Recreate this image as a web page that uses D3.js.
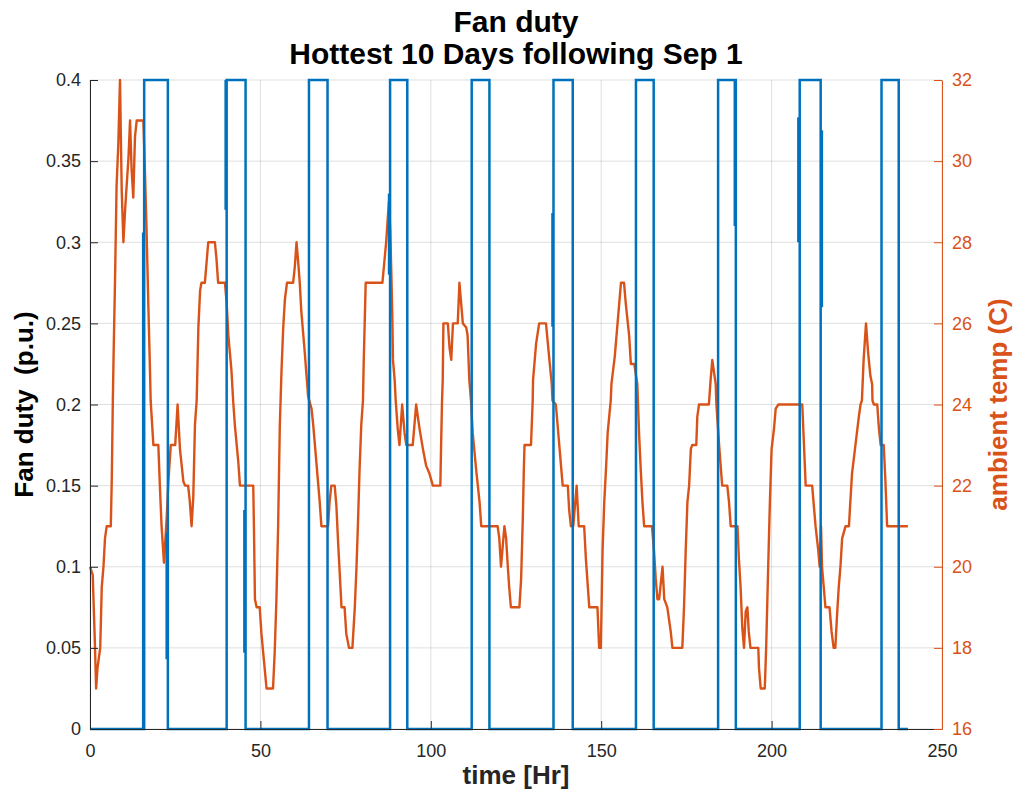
<!DOCTYPE html>
<html lang="en">
<head>
    <meta charset="UTF-8">
    <title>Fan duty</title>
    <script src="https://d3js.org/d3.v7.min.js"></script>
    <style>
        body {
            margin: 0;
            background: #fff;
            font-family: "Liberation Sans", Arial, Helvetica, sans-serif;
        }
        .grid line {
            stroke: #262626;
            stroke-opacity: 0.15;
            stroke-width: 1px;
        }
        .title, .label {
            font-weight: bold;
        }
    </style>
</head>
<body>
    <script>
        // axis ticks
        const xTicks = [0, 50, 100, 150, 200, 250];
        const leftTicks = [0, 0.05, 0.1, 0.15, 0.2, 0.25, 0.3, 0.35, 0.4];
        const rightTicks = [16, 18, 20, 22, 24, 26, 28, 30, 32];

        // fan duty: switched on/off times (hours) and the on level
        const fanOnHr = [15.9, 40.1, 64.25, 88.05, 112.0, 136.0, 160.2, 184.3, 208.25, 232.25];
        const fanOffHr = [22.85, 45.65, 69.7, 93.1, 117.2, 141.65, 165.4, 189.5, 214.4, 237.3];
        const fanLevel = 0.4;
        const fanEndHr = 240;
        // short overlapping traces near some switching edges: [hour, low, high]
        const fanStubs = [
            [15.6, 0, 0.306], [22.5, 0.043, 0.121], [39.8, 0.32, 0.4],
            [45.3, 0.047, 0.135], [87.75, 0.28, 0.33], [135.7, 0.248, 0.318],
            [189.2, 0.31, 0.4], [207.85, 0.3, 0.377], [214.75, 0.26, 0.369]
        ];

        // ambient temperature, [hour, deg C]
        const tempTrace = [
            [0, 20], [0.8, 19.8], [1.4, 18.2], [1.8, 17], [2.2, 17.5], [3.0, 18], [3.45, 19.5],
            [3.95, 20], [4.4, 20.7], [4.9, 21], [6.1, 21], [6.4, 22.2], [6.7, 24.1], [6.9, 25.1],
            [7.35, 27.1], [7.8, 29.4], [8.3, 30.4], [8.8, 32], [9.3, 29.3], [9.8, 28], [10.3, 28.8],
            [11.3, 30.1], [11.75, 31], [12.2, 29.8], [12.7, 29.1], [13.2, 30.6], [13.7, 31],
            [15.65, 31], [16.1, 29.8], [16.6, 28.3], [17.1, 26.5], [17.6, 24.85], [17.8, 24.1],
            [18.6, 23], [20.05, 23], [20.5, 22], [21.0, 21], [21.7, 20.1], [22.5, 21.2], [23.0, 22.1],
            [23.7, 23], [25.0, 23], [25.7, 24], [26.4, 22.9], [27.4, 22.1], [27.9, 22], [28.8, 22],
            [29.3, 21.6], [29.8, 21], [30.3, 21.7], [30.8, 23.5], [31.3, 24.1], [31.8, 25.9],
            [32.3, 26.8], [32.7, 27], [33.7, 27], [34.2, 27.5], [34.7, 28], [36.65, 28], [37.1, 27.6],
            [37.6, 27], [39.6, 27], [40.1, 26.5], [40.6, 25.7], [41.5, 24.85], [42.0, 24.1],
            [42.5, 23.5], [43.5, 22.6], [44.0, 22], [47.9, 22], [48.1, 21], [48.4, 19.2], [48.9, 19],
            [49.8, 19], [50.3, 18.35], [50.8, 17.9], [51.8, 17], [53.7, 17], [54.2, 17.9], [54.7, 19.2],
            [55.2, 21], [55.7, 23.5], [56.2, 24.85], [56.7, 25.9], [57.2, 26.6], [57.8, 27], [59.6, 27],
            [60.1, 27.4], [60.6, 28], [61.1, 27.5], [61.55, 27], [62.0, 26.3], [63.0, 25.3],
            [64.0, 24.2], [65.0, 23.9], [65.5, 23.5], [66.4, 22.6], [67.4, 21.6], [67.9, 21],
            [69.85, 21], [70.3, 21.6], [70.8, 22], [71.8, 22], [72.3, 21.5], [72.8, 20.6], [73.3, 19.8],
            [73.8, 19], [74.7, 19], [75.2, 18.35], [76.0, 18], [77.0, 18], [77.7, 19], [78.2, 20],
            [78.6, 21], [79.1, 22.4], [79.6, 23.5], [80.1, 24.1], [80.3, 25], [80.6, 26], [80.9, 27],
            [85.8, 27], [86.9, 28], [87.7, 29], [88.1, 28.3], [88.4, 27.3], [88.7, 26.2], [88.9, 25.1],
            [89.4, 24.6], [89.7, 24.1], [90.3, 23.4], [90.8, 23], [91.6, 24], [92.3, 23.3], [92.8, 23],
            [94.7, 23], [95.7, 24], [96.7, 23.4], [97.7, 22.9], [98.6, 22.5], [99.6, 22.3], [100.6, 22],
            [102.8, 22], [103.0, 22.9], [103.3, 24.1], [103.5, 24.6], [103.7, 26], [105.0, 26],
            [105.5, 25.4], [106.0, 25.1], [106.5, 26], [107.9, 26], [108.4, 27], [109.4, 26],
            [110.4, 25.9], [110.8, 25.7], [111.3, 24.6], [111.8, 24.1], [112.3, 23.3], [113.3, 22.4],
            [114.3, 21.6], [114.8, 21], [119.6, 21], [120.1, 20.7], [120.6, 20], [121.6, 21],
            [122.1, 20.7], [122.6, 20], [123.0, 19.5], [123.5, 19], [126.0, 19], [126.5, 19.7],
            [127.0, 21.2], [127.3, 22.4], [127.5, 23], [129.4, 23], [129.9, 24.1], [130.0, 24.6],
            [130.9, 25.5], [131.8, 26], [133.8, 26], [134.8, 25.1], [135.5, 24.5], [135.7, 24.1],
            [136.7, 24], [137.7, 23], [138.7, 22], [140.2, 22], [140.6, 21.4], [141.1, 21], [141.8, 21],
            [142.4, 21.6], [142.8, 22], [143.4, 21], [145.0, 21], [145.5, 20.2], [146.5, 19],
            [148.9, 19], [149.4, 18], [149.9, 18], [150.4, 20.4], [150.9, 21.6], [151.4, 22.4],
            [151.9, 23.3], [152.8, 24.1], [153.0, 24.5], [154.0, 25.2], [154.8, 26], [155.8, 27],
            [156.7, 27], [157.2, 26.5], [158.2, 25.7], [158.7, 25], [159.7, 25], [160.6, 24.5],
            [161.1, 23.3], [161.6, 22.4], [162.1, 21.6], [162.6, 21], [164.9, 21], [165.5, 20.4],
            [166.0, 19.7], [166.5, 19.2], [167.0, 19.2], [168.0, 20], [168.5, 19.2], [169.4, 19],
            [170.4, 18.4], [170.9, 18], [173.8, 18], [174.3, 19], [174.8, 20.4], [175.3, 21.6],
            [175.8, 22], [176.3, 22.9], [176.7, 23], [177.9, 23], [178.2, 23.7], [178.7, 24],
            [181.6, 24], [182.1, 24.6], [182.6, 25.1], [183.1, 24.8], [183.6, 24.5], [183.8, 24],
            [184.6, 23], [185.5, 22], [187.0, 22], [187.5, 21.6], [188.0, 21], [190.0, 21],
            [190.4, 20.2], [190.9, 19.5], [191.4, 18.5], [191.9, 18], [192.4, 18.9], [192.9, 19],
            [193.3, 18.4], [193.8, 18], [196.1, 18], [196.3, 17.5], [196.8, 17], [198.0, 17],
            [198.4, 18], [199.0, 20], [199.5, 21.6], [200.0, 22.9], [200.7, 23.4], [201.2, 23.9],
            [202.0, 24], [209.0, 24], [209.5, 23], [210.0, 22], [211.9, 22], [212.4, 21.5], [212.9, 21],
            [213.7, 20.4], [214.1, 20], [214.5, 21], [214.8, 20], [215.3, 19.5], [215.8, 19],
            [217.0, 19], [217.6, 18.4], [218.2, 18], [218.7, 18], [219.2, 18.8], [219.7, 19.5],
            [220.2, 20], [220.7, 20.7], [221.7, 21], [222.7, 21], [223.1, 21.6], [223.6, 22.3],
            [224.6, 23], [225.6, 23.7], [226.1, 24], [226.5, 24.1], [227.0, 25.1], [227.7, 26],
            [228.3, 25.3], [229.0, 24.7], [229.5, 24.5], [229.6, 24.1], [230.0, 24], [231.0, 24],
            [231.5, 23.4], [232.0, 23], [232.9, 23], [233.4, 22.1], [233.9, 21], [240.0, 21]
        ];

        const blue = "#0072BD", orange = "#D95319", dark = "#262626";
        const width = 1018, height = 796;
        const plotL = 90, plotR = 942, plotT = 80, plotB = 729;

        const svg = d3.select("body")
            .append("svg")
            .attr("width", width)
            .attr("height", height);

        const x = d3.scaleLinear().domain([0, 250]).range([plotL, plotR]);
        const yL = d3.scaleLinear().domain([0, 0.4]).range([plotB, plotT]);
        const yR = d3.scaleLinear().domain([16, 32]).range([plotB, plotT]);

        // grid
        const grid = svg.append("g").attr("class", "grid");
        grid.selectAll(".gx")
            .data(xTicks)
            .enter()
            .append("line")
            .attr("x1", d => x(d)).attr("x2", d => x(d))
            .attr("y1", plotT).attr("y2", plotB);
        grid.selectAll(".gy")
            .data(leftTicks)
            .enter()
            .append("line")
            .attr("x1", plotL).attr("x2", plotR)
            .attr("y1", d => yL(d)).attr("y2", d => yL(d));

        // temperature line
        svg.append("path")
            .datum(tempTrace)
            .attr("fill", "none")
            .attr("stroke", orange)
            .attr("stroke-width", 2.4)
            .attr("stroke-linejoin", "round")
            .attr("d", d3.line().x(d => x(d[0])).y(d => yR(d[1])));

        // fan duty square wave
        const fanPts = [[0, 0]];
        fanOnHr.forEach((on, i) => {
            fanPts.push([on, 0], [on, fanLevel], [fanOffHr[i], fanLevel], [fanOffHr[i], 0]);
        });
        fanPts.push([fanEndHr, 0]);

        svg.append("path")
            .datum(fanPts)
            .attr("fill", "none")
            .attr("stroke", blue)
            .attr("stroke-width", 2.5)
            .attr("d", d3.line().x(d => x(d[0])).y(d => yL(d[1])));

        svg.selectAll(".stub")
            .data(fanStubs)
            .enter()
            .append("line")
            .attr("stroke", blue)
            .attr("stroke-width", 2.5)
            .attr("x1", d => x(d[0])).attr("x2", d => x(d[0]))
            .attr("y1", d => yL(d[1])).attr("y2", d => yL(d[2]));

        // axes
        const fmt = d => String(+d.toFixed(2));

        const gx = svg.append("g")
            .attr("transform", `translate(0,${plotB})`)
            .call(d3.axisBottom(x).tickValues(xTicks).tickSizeInner(-8).tickSizeOuter(0).tickPadding(15));

        const gl = svg.append("g")
            .attr("transform", `translate(${plotL},0)`)
            .call(d3.axisLeft(yL).tickValues(leftTicks).tickFormat(fmt)
                .tickSizeInner(-8).tickSizeOuter(0).tickPadding(9));

        const gr = svg.append("g")
            .attr("transform", `translate(${plotR},0)`)
            .call(d3.axisRight(yR).tickValues(rightTicks).tickSizeInner(-8).tickSizeOuter(0).tickPadding(10));

        [gx, gl].forEach(g => {
            g.attr("font-family", null).attr("font-size", 18);
            g.select(".domain").attr("stroke", dark);
            g.selectAll(".tick line").attr("stroke", dark);
            g.selectAll(".tick text").attr("fill", dark);
        });
        gr.attr("font-family", null).attr("font-size", 18);
        gr.select(".domain").attr("stroke", orange);
        gr.selectAll(".tick line").attr("stroke", orange);
        gr.selectAll(".tick text").attr("fill", orange);

        // titles and labels
        const cx = (plotL + plotR) / 2, cy = (plotT + plotB) / 2;
        svg.append("text").attr("class", "title")
            .attr("x", cx).attr("y", 32)
            .attr("text-anchor", "middle").attr("font-size", 30).attr("fill", "#000")
            .text("Fan duty");
        svg.append("text").attr("class", "title")
            .attr("x", cx).attr("y", 64)
            .attr("text-anchor", "middle").attr("font-size", 30).attr("fill", "#000")
            .text("Hottest 10 Days following Sep 1");

        svg.append("text").attr("class", "label")
            .attr("x", cx).attr("y", 784)
            .attr("text-anchor", "middle").attr("font-size", 26).attr("fill", dark)
            .text("time [Hr]");

        svg.append("text").attr("class", "label")
            .attr("transform", `translate(33,${cy}) rotate(-90)`)
            .attr("text-anchor", "middle").attr("font-size", 26).attr("fill", "#000")
            .style("white-space", "pre")
            .text("Fan duty  (p.u.)");

        svg.append("text").attr("class", "label")
            .attr("transform", `translate(1007,${cy}) rotate(-90)`)
            .attr("text-anchor", "middle").attr("font-size", 26).attr("fill", orange)
            .text("ambient temp (C)");
    </script>
</body>
</html>
